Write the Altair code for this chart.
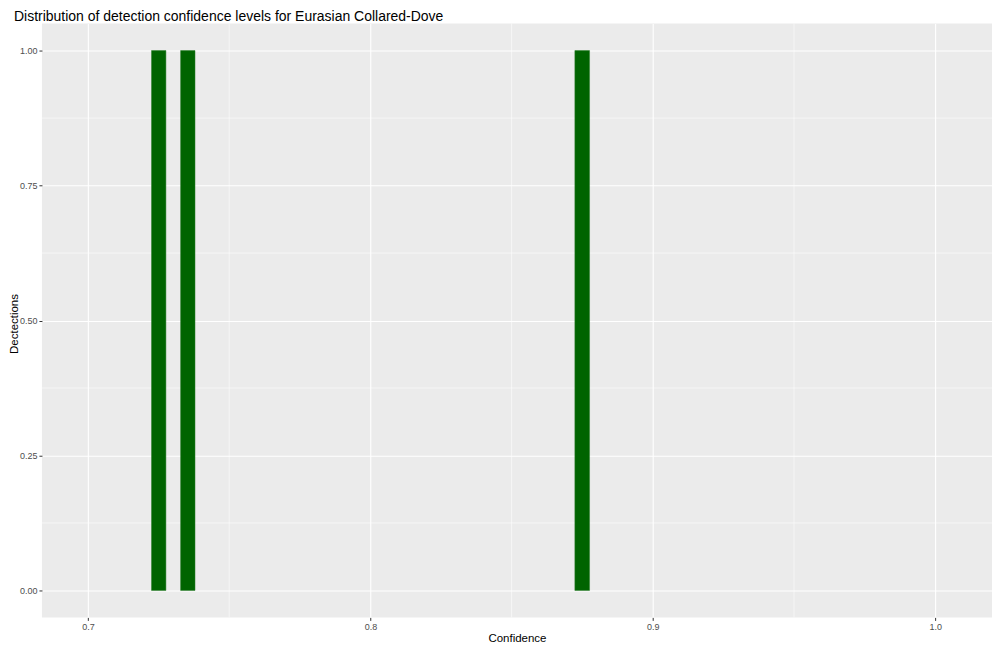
import altair as alt
import pandas as pd

# Histogram bins (Confidence) with detections count
bin_start = [0.7225, 0.7328, 0.8724]
bin_end = [0.7276, 0.7379, 0.8776]
counts = [1, 1, 1]

x_major = [0.7, 0.8, 0.9, 1.0]
x_minor = [0.75, 0.85, 0.95]
y_major = [0.0, 0.25, 0.5, 0.75, 1.0]
y_minor = [0.125, 0.375, 0.625, 0.875]

X_DOMAIN = [0.6837, 1.0201]
Y_DOMAIN = [-0.05, 1.05]

bars = pd.DataFrame({"start": bin_start, "end": bin_end, "count": counts})
xm = pd.DataFrame({"start": x_minor})
ym = pd.DataFrame({"count": y_minor})

FONT = "Liberation Sans"
W, H = 952, 595

xscale = alt.Scale(domain=X_DOMAIN, nice=False, zero=False)
yscale = alt.Scale(domain=Y_DOMAIN, nice=False, zero=False)

xaxis = alt.Axis(
    values=x_major,
    format=".1f",
    title="Confidence",
    titleY=21,
    titleX=W / 2,
    titleBaseline="middle",
    titleAlign="center",
)
yaxis = alt.Axis(
    values=y_major,
    format=".2f",
    title="Dectections",
    titleX=-27,
    titleY=H / 2 + 3,
    titleBaseline="middle",
    titleAlign="center",
    titleAngle=-90,
)

xminor = alt.Chart(xm).mark_rule(color="white", strokeWidth=0.55).encode(
    x=alt.X("start:Q", scale=xscale, axis=xaxis)
)
yminor = alt.Chart(ym).mark_rule(color="white", strokeWidth=0.55).encode(
    y=alt.Y("count:Q", scale=yscale, axis=yaxis)
)

rects = alt.Chart(bars).mark_rect(color="#006400", stroke="#2a7d2a", strokeWidth=0.5).encode(
    x=alt.X("start:Q", scale=xscale, axis=xaxis),
    x2="end:Q",
    y=alt.Y("count:Q", scale=yscale, axis=yaxis),
    y2=alt.datum(0),
)

chart = (
    alt.layer(xminor, yminor, rects)
    .properties(
        width=W,
        height=H,
        title=alt.TitleParams(
            "Distribution of detection confidence levels for Eurasian Collared-Dove",
            anchor="start",
            frame="group",
            dx=-28,
            fontSize=14,
            font=FONT,
            fontWeight="normal",
            color="black",
            offset=-1,
        ),
        autosize=alt.AutoSizeParams(type="none"),
        padding={"left": 34, "top": 15, "right": 0, "bottom": 25},
    )
    .configure_view(fill="#EBEBEB", stroke=None)
    .configure_axis(
        domain=False,
        grid=True,
        gridColor="white",
        gridWidth=1.1,
        gridOpacity=1,
        tickColor="#333333",
        tickSize=3,
        tickWidth=1,
        labelColor="#4D4D4D",
        labelFont=FONT,
        labelFontSize=9,
        labelPadding=2,
        titleFont=FONT,
        titleFontSize=11.5,
        titleFontWeight="normal",
        titleColor="black",
    )
)

chart.save("out.html", embed_options={"renderer": "svg", "actions": False})
